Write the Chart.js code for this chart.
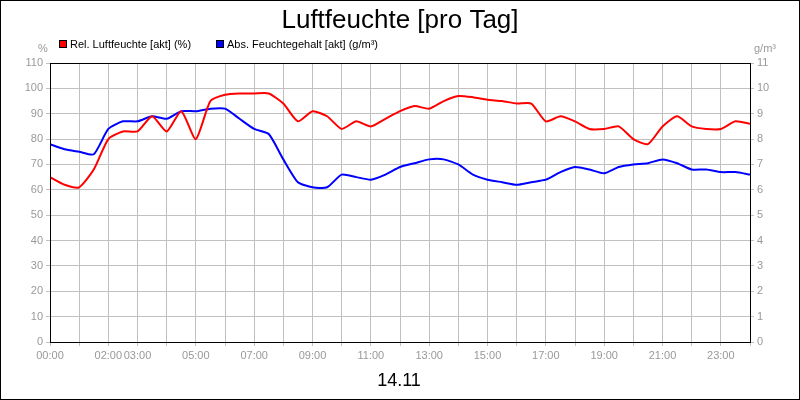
<!DOCTYPE html>
<html>
<head>
<meta charset="utf-8">
<script src="https://cdn.jsdelivr.net/npm/chart.js@4"></script>
<style>
  body { margin: 0; background: #fff; }
</style>
</head>
<body>
<canvas id="chart" width="800" height="400"></canvas>
<script>
// data, half-hour steps
const hours = [0,0.5,1,1.5,2,2.5,3,3.5,4,4.5,5,5.5,6,6.5,7,7.5,8,8.5,9,9.5,10,10.5,11,11.5,12,
               12.5,13,13.5,14,14.5,15,15.5,16,16.5,17,17.5,18,18.5,19,19.5,20,20.5,21,21.5,22,22.5,23,23.5,24];
const relHumidity = [65,62,61,68,80,83,83,89,83,91,80,95,97.5,98,98,98,94,87,91,89,84,87,85,88,91,
                     93,92,95,97,96.5,95.5,95,94,94,87,89,87,84,84,85,80,78,85,89,85,84,84,87,86];
const absHumidity = [7.8,7.6,7.5,7.4,8.4,8.7,8.7,8.9,8.8,9.1,9.1,9.2,9.2,8.8,8.4,8.2,7.2,6.3,6.1,6.1,6.6,6.5,6.4,6.6,6.9,
                     7.05,7.2,7.2,7.0,6.6,6.4,6.3,6.2,6.3,6.4,6.7,6.9,6.8,6.65,6.9,7.0,7.05,7.2,7.05,6.8,6.8,6.7,6.7,6.6];
const hourLabels = {0:"00:00",2:"02:00",3:"03:00",5:"05:00",7:"07:00",9:"09:00",11:"11:00",
                    13:"13:00",15:"15:00",17:"17:00",19:"19:00",21:"21:00",23:"23:00"};
const seriesNames = ["Rel. Luftfeuchte [akt] (%)", "Abs. Feuchtegehalt [akt] (g/m³)"];
const seriesColors = ["#ff0000", "#0000ff"];

const font = "Arial, 'Liberation Sans', sans-serif";

// title, legend, units, frame
const decor = {
    id: "decor",
    afterDraw(chart) {
        const c = chart.ctx, a = chart.chartArea;
        c.save();
        c.strokeStyle = "#000"; c.lineWidth = 1;
        c.strokeRect(0.5, 0.5, 799, 399);
        c.strokeRect(a.left + 0.5, a.top + 0.5, a.right - a.left, a.bottom - a.top);
        c.fillStyle = "#000";
        c.textAlign = "center"; c.textBaseline = "alphabetic";
        c.font = "26px " + font;
        c.fillText("Luftfeuchte [pro Tag]", 400, 28);
        c.font = "18px " + font;
        c.fillText("14.11", 399, 386);
        c.textAlign = "left"; c.font = "11px " + font;
        let x = 59;
        seriesNames.forEach((n, i) => {
            c.fillStyle = seriesColors[i];
            c.fillRect(x, 40, 8, 8);
            c.strokeStyle = "#000"; c.strokeRect(x + 0.5, 40.5, 7, 7);
            c.fillStyle = "#000";
            c.fillText(n, x + 11, 48);
            x += 157;
        });
        c.fillStyle = "#999";
        c.fillText("%", 38, 52);
        c.textAlign = "right";
        c.fillText("g/m³", 776, 52);
        c.restore();
    }
};

new Chart(document.getElementById("chart"), {
    type: "line",
    data: {
        datasets: [
            { data: hours.map((h, i) => ({ x: h, y: relHumidity[i] })), borderColor: seriesColors[0],
              borderWidth: 2, pointRadius: 0, tension: 0.2, yAxisID: "y" },
            { data: hours.map((h, i) => ({ x: h, y: absHumidity[i] })), borderColor: seriesColors[1],
              borderWidth: 2, pointRadius: 0, tension: 0.2, yAxisID: "y1" }
        ]
    },
    options: {
        responsive: false, animation: false,
        layout: { padding: { top: 63, left: 0, right: 0, bottom: 0 } },
        plugins: { legend: { display: false }, tooltip: { enabled: false } },
        scales: {
            x: {
                type: "linear", min: 0, max: 24,
                afterFit: s => { s.height = 58; },
                ticks: { stepSize: 1, autoSkip: false, maxRotation: 0, color: "#999",
                         font: { size: 11, family: font },
                         callback: v => hourLabels[v] || "" },
                grid: { color: "#c0c0c0", tickLength: 4 },
                border: { color: "#000" }
            },
            y: {
                position: "left", min: 0, max: 110,
                afterFit: s => { s.width = 50; },
                ticks: { stepSize: 10, color: "#999", font: { size: 11, family: font } },
                grid: { color: "#c0c0c0", tickLength: 4 },
                border: { color: "#000" }
            },
            y1: {
                position: "right", min: 0, max: 11,
                afterFit: s => { s.width = 50; },
                ticks: { stepSize: 1, color: "#999", font: { size: 11, family: font } },
                grid: { drawOnChartArea: false, color: "#c0c0c0", tickLength: 4 },
                border: { color: "#000" }
            }
        }
    },
    plugins: [decor]
});
</script>
</body>
</html>
